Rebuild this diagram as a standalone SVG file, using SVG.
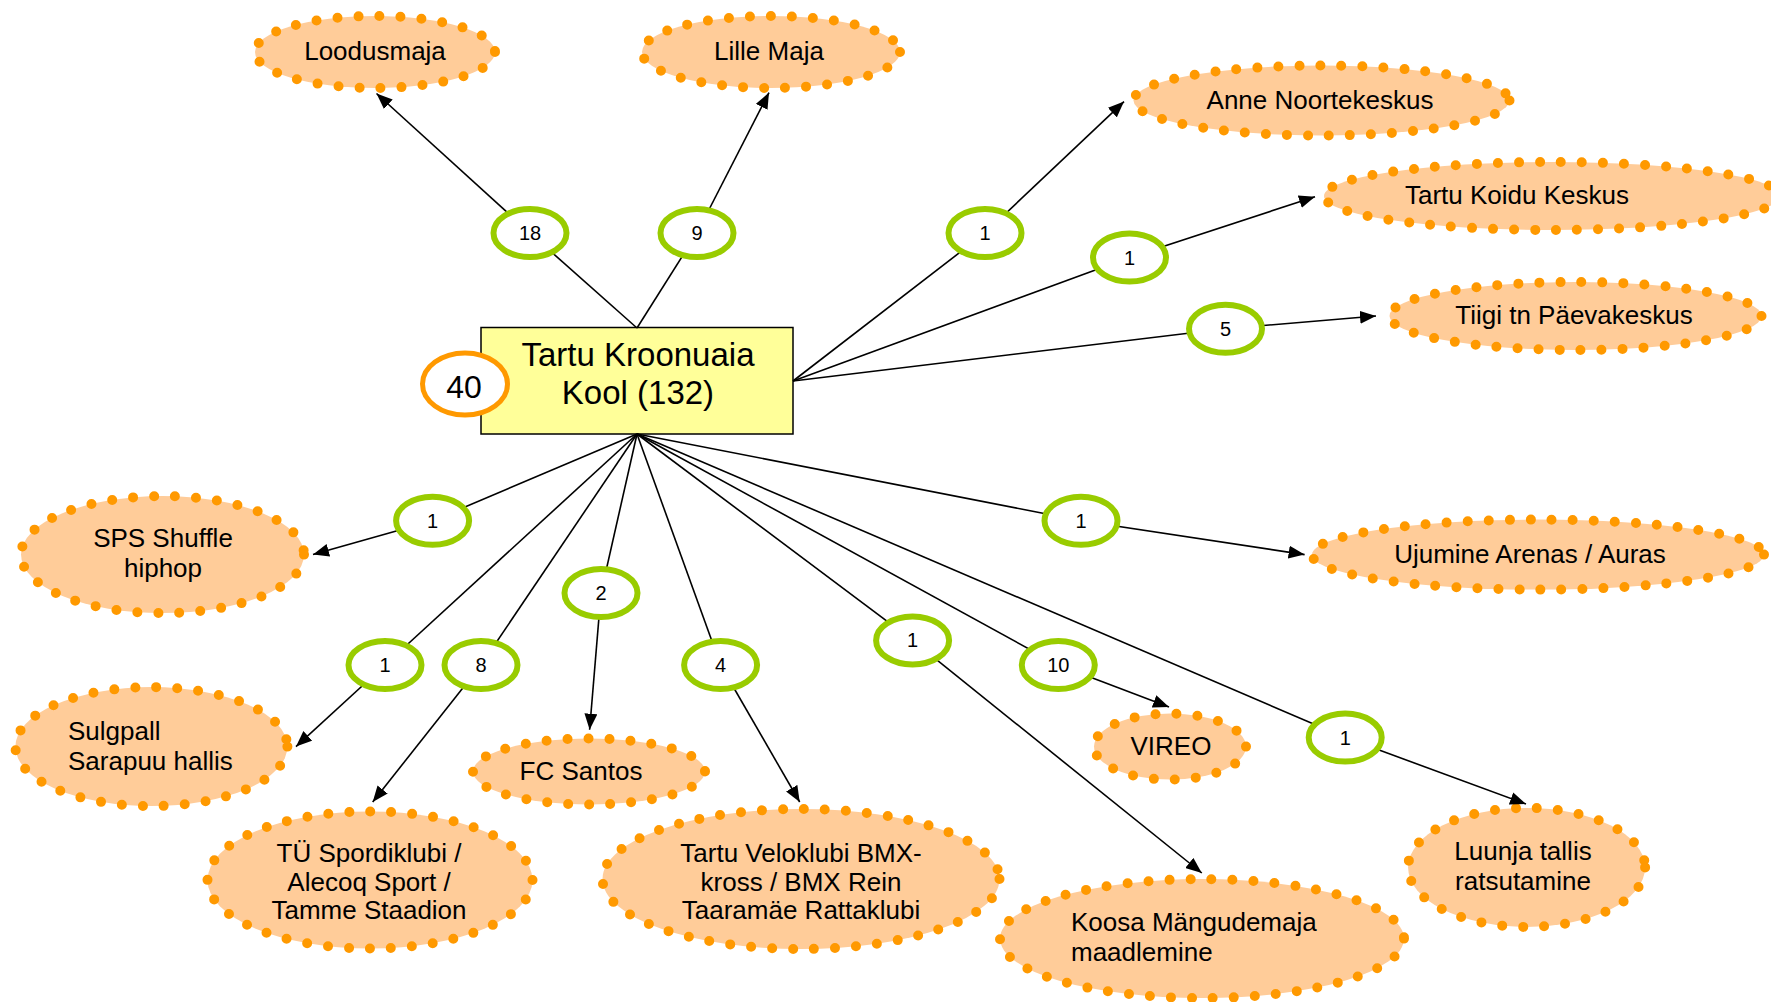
<svg xmlns="http://www.w3.org/2000/svg" width="1771" height="1002" viewBox="0 0 1771 1002">
<style>
.n{fill:#FFCC99;stroke:#FF9900;stroke-width:10;stroke-dasharray:0 21;stroke-linecap:round}
.t{font-family:"Liberation Sans",Arial,sans-serif;font-size:26px;fill:#000}
.c{text-anchor:middle}
.l{fill:none;stroke:#000;stroke-width:1.6}
.a{fill:none;stroke:#000;stroke-width:1.6;marker-end:url(#ar)}
.g{fill:#fff;stroke:#99CC00;stroke-width:6}
.gt{font-family:"Liberation Sans",Arial,sans-serif;font-size:20px;text-anchor:middle;fill:#000}
</style>
<defs>
<marker id="ar" viewBox="0 0 16 13" refX="16" refY="6.5" markerWidth="16" markerHeight="13" markerUnits="userSpaceOnUse" orient="auto">
<path d="M0,0 L16,6.5 L0,13 Z" fill="#000"/>
</marker>
</defs>
<rect width="1771" height="1002" fill="#fff"/>

<g id="n-loodusmaja"><ellipse class="n" cx="375" cy="52" rx="120" ry="36"/><text class="t c" x="375" y="60">Loodusmaja</text></g>
<g id="n-lillemaja"><ellipse class="n" cx="771" cy="52" rx="129" ry="36"/><text class="t c" x="769" y="60">Lille Maja</text></g>
<g id="n-anne"><ellipse class="n" cx="1321.5" cy="100.5" rx="188" ry="35"/><text class="t c" x="1320" y="109">Anne Noortekeskus</text></g>
<g id="n-koidu"><ellipse class="n" cx="1552" cy="196" rx="228" ry="34"/><text class="t c" x="1517" y="204">Tartu Koidu Keskus</text></g>
<g id="n-tiigi"><ellipse class="n" cx="1575.5" cy="316" rx="186" ry="34"/><text class="t c" x="1574" y="324">Tiigi tn Päevakeskus</text></g>
<g id="n-sps"><ellipse class="n" cx="162.5" cy="554.6" rx="141.5" ry="58.5"/><text class="t c"><tspan x="163" y="547">SPS Shuffle</tspan><tspan x="163" y="577">hiphop</tspan></text></g>
<g id="n-ujumine"><ellipse class="n" cx="1538" cy="554.6" rx="226" ry="35"/><text class="t c" x="1530" y="563">Ujumine Arenas / Auras</text></g>
<g id="n-sulgpall"><ellipse class="n" cx="151.4" cy="746.6" rx="136" ry="59.5"/><text class="t"><tspan x="68" y="740">Sulgpall</tspan><tspan x="68" y="770">Sarapuu hallis</tspan></text></g>
<g id="n-fcsantos"><ellipse class="n" cx="589" cy="771.5" rx="116" ry="33"/><text class="t c" x="581" y="780">FC Santos</text></g>
<g id="n-tu"><ellipse class="n" cx="370" cy="880" rx="162.5" ry="68.5"/><text class="t c"><tspan x="369" y="862">TÜ Spordiklubi /</tspan><tspan x="369" y="891">Alecoq Sport /</tspan><tspan x="369" y="919">Tamme Staadion</tspan></text></g>
<g id="n-velo"><ellipse class="n" cx="801" cy="879" rx="198.5" ry="70"/><text class="t c"><tspan x="801" y="862">Tartu Veloklubi BMX-</tspan><tspan x="801" y="891">kross / BMX Rein</tspan><tspan x="801" y="919">Taaramäe Rattaklubi</tspan></text></g>
<g id="n-vireo"><ellipse class="n" cx="1170" cy="746.6" rx="76" ry="33"/><text class="t c" x="1171" y="755">VIREO</text></g>
<g id="n-koosa"><ellipse class="n" cx="1202" cy="938.6" rx="202" ry="59.5"/><text class="t"><tspan x="1071" y="931">Koosa Mängudemaja</tspan><tspan x="1071" y="961">maadlemine</tspan></text></g>
<g id="n-luunja"><ellipse class="n" cx="1526.6" cy="867.4" rx="118.5" ry="59.5"/><text class="t c"><tspan x="1523" y="860">Luunja tallis</tspan><tspan x="1523" y="890">ratsutamine</tspan></text></g>

<g id="n-kroonuaia">
<rect x="481" y="327.5" width="312" height="106.5" fill="#FFFF99" stroke="#000" stroke-width="1.5"/>
<text font-family="'Liberation Sans',Arial,sans-serif" font-size="33" text-anchor="middle"><tspan x="638" y="366">Tartu Kroonuaia</tspan><tspan x="638" y="404">Kool (132)</tspan></text>
<ellipse cx="465" cy="384" rx="42.5" ry="31" fill="#fff" stroke="#FF9900" stroke-width="5"/>
<text font-family="'Liberation Sans',Arial,sans-serif" font-size="32" text-anchor="middle" x="464" y="398">40</text>
</g>

<g id="connectors">
<g><path class="l" d="M637,328 L530,233"/><path class="a" d="M530,233 L376.5,93.5"/><ellipse class="g" cx="530" cy="233" rx="36.5" ry="24"/><text class="gt" x="530" y="240">18</text></g>
<g><path class="l" d="M637,328 L697,233"/><path class="a" d="M697,233 L769,92.6"/><ellipse class="g" cx="697" cy="233" rx="36.5" ry="24"/><text class="gt" x="697" y="240">9</text></g>
<g><path class="l" d="M793,381 L985,233"/><path class="a" d="M985,233 L1124,101.6"/><ellipse class="g" cx="985" cy="233" rx="36.5" ry="24"/><text class="gt" x="985" y="240">1</text></g>
<g><path class="l" d="M793,381 L1129.5,257.5"/><path class="a" d="M1129.5,257.5 L1315,196.7"/><ellipse class="g" cx="1129.5" cy="257.5" rx="36.5" ry="24"/><text class="gt" x="1129.5" y="264.5">1</text></g>
<g><path class="l" d="M793,381 L1225.5,328.7"/><path class="a" d="M1225.5,328.7 L1376,316"/><ellipse class="g" cx="1225.5" cy="328.7" rx="36.5" ry="24"/><text class="gt" x="1225.5" y="335.7">5</text></g>
<g><path class="l" d="M637,434 L432.6,520.7"/><path class="a" d="M432.6,520.7 L313,554.6"/><ellipse class="g" cx="432.6" cy="520.7" rx="36.5" ry="24"/><text class="gt" x="432.6" y="527.7">1</text></g>
<g><path class="l" d="M637,434 L1081,520.7"/><path class="a" d="M1081,520.7 L1304.6,554.6"/><ellipse class="g" cx="1081" cy="520.7" rx="36.5" ry="24"/><text class="gt" x="1081" y="527.7">1</text></g>
<g><path class="l" d="M637,434 L601,593"/><path class="a" d="M601,593 L589.6,729.7"/><ellipse class="g" cx="601" cy="593" rx="36.5" ry="24"/><text class="gt" x="601" y="600">2</text></g>
<g><path class="l" d="M637,434 L385,665"/><path class="a" d="M385,665 L296,746.6"/><ellipse class="g" cx="385" cy="665" rx="36.5" ry="24"/><text class="gt" x="385" y="672">1</text></g>
<g><path class="l" d="M637,434 L481,665"/><path class="a" d="M481,665 L372.7,802"/><ellipse class="g" cx="481" cy="665" rx="36.5" ry="24"/><text class="gt" x="481" y="672">8</text></g>
<g><path class="l" d="M637,434 L720.6,665"/><path class="a" d="M720.6,665 L799.7,802"/><ellipse class="g" cx="720.6" cy="665" rx="36.5" ry="24"/><text class="gt" x="720.6" y="672">4</text></g>
<g><path class="l" d="M637,434 L912.6,640.4"/><path class="a" d="M912.6,640.4 L1201.8,873"/><ellipse class="g" cx="912.6" cy="640.4" rx="36.5" ry="24"/><text class="gt" x="912.6" y="647.4">1</text></g>
<g><path class="l" d="M637,434 L1058.3,665"/><path class="a" d="M1058.3,665 L1169,707"/><ellipse class="g" cx="1058.3" cy="665" rx="36.5" ry="24"/><text class="gt" x="1058.3" y="672">10</text></g>
<g><path class="l" d="M637,434 L1345.2,737.6"/><path class="a" d="M1345.2,737.6 L1526,804"/><ellipse class="g" cx="1345.2" cy="737.6" rx="36.5" ry="24"/><text class="gt" x="1345.2" y="744.6">1</text></g>
</g>
</svg>
